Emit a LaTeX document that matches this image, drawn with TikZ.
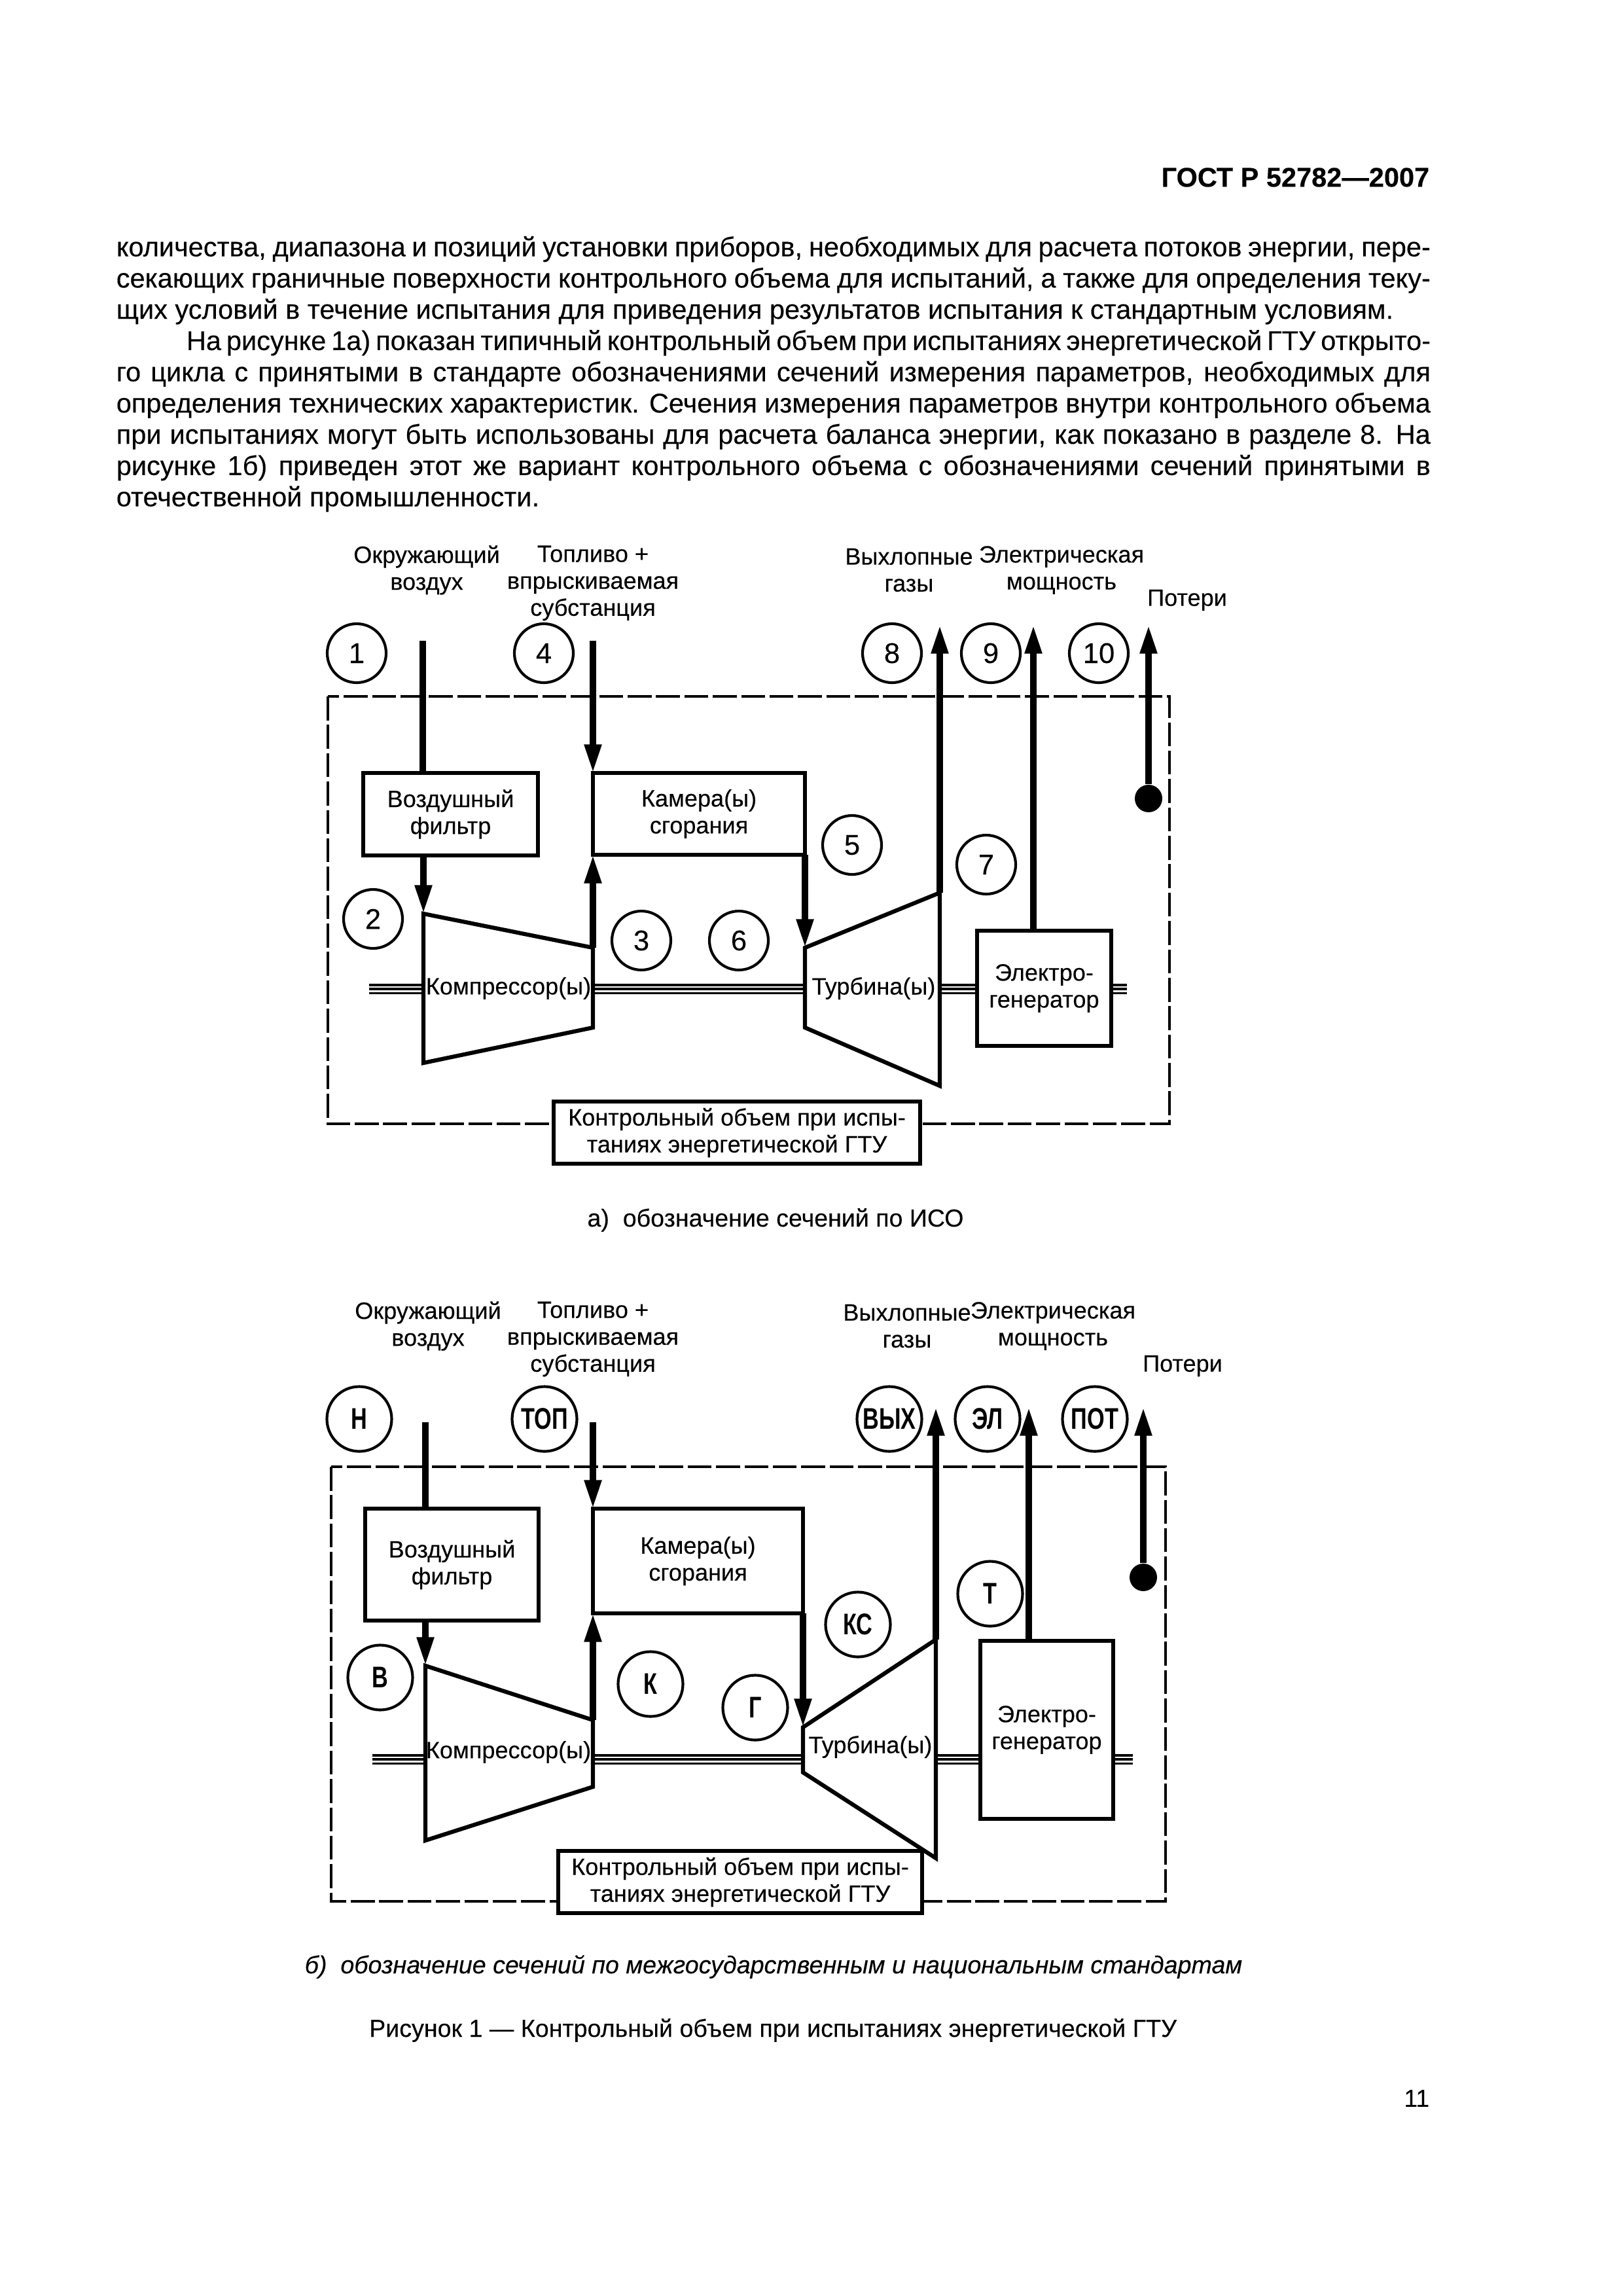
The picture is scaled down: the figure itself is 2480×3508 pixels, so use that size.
\documentclass[tikz,border=0pt]{standalone}
\usepackage{fontspec}
\setmainfont[FakeBold=0.2]{Liberation Sans}
\newfontfamily\secfont[FakeStretch=0.75]{Liberation Sans Bold}
\usetikzlibrary{arrows.meta}
\newlength{\px}
\setlength{\px}{0.2409pt}
\begin{document}
\begin{tikzpicture}[x=0.2409pt,y=-0.2409pt,box/.style={rectangle,draw=black,fill=white,line width=1.5pt,align=center,inner sep=0pt,outer sep=0pt,font=\fontsize{8.7}{9.9}\selectfont},note/.style={inner sep=0pt,align=center,font=\fontsize{8.7}{9.9}\selectfont},sect/.style={circle,draw=black,fill=white,line width=1pt,inner sep=0pt,minimum size=90\px,font=\fontsize{10.5}{11}\selectfont},secb/.style={sect,minimum size=99\px,font=\secfont\fontsize{11}{12}\selectfont},stage/.style={draw=black,line width=1.5pt,line join=miter},flow/.style={draw=black,line width=2.25pt},arrow/.style={flow,-{Triangle[length=10.5pt,width=5.9pt]}},shaft/.style={draw=black,line width=16\px,postaction={draw=white,line width=9\px},postaction={draw=black,line width=3.5\px}},bound/.style={draw=black,line width=1pt,dash pattern=on 8.8pt off 1.65pt},sink/.style={circle,fill=black,inner sep=0pt,minimum size=42\px}]
\useasboundingbox (0,0) rectangle (2480,3508);
% page text
\node[note,anchor=east,font=\bfseries\fontsize{10}{12}\selectfont](head) at (2185,271){ГОСТ Р 52782—2007};
\node[inner sep=0pt,anchor=north west,text width=2008\px,align=justify,font=\fontsize{10}{11.5}\selectfont](body) at (177,360){количества, диапазона и позиций установки приборов, необходимых для расчета потоков энергии, пере-\linebreak секающих граничные поверхности контрольного объема для испытаний, а также для определения теку-\linebreak щих условий в течение испытания для приведения результатов испытания к стандартным условиям.\par\hspace*{25.8pt}На рисунке 1а) показан типичный контрольный объем при испытаниях энергетической ГТУ открыто-\linebreak го цикла с принятыми в стандарте обозначениями сечений измерения параметров, необходимых для\linebreak определения технических характеристик. Сечения измерения параметров внутри контрольного объема\linebreak при испытаниях могут быть использованы для расчета баланса энергии, как показано в разделе 8. На\linebreak рисунке 1б) приведен этот же вариант контрольного объема с обозначениями сечений принятыми в\linebreak отечественной промышленности.};
% variant a
\draw[bound](501,1064) rectangle (1787,1717);
\coordinate (airA) at (646,979);
\coordinate (fuelA) at (906,979);
\coordinate (gasA) at (1436,955);
\coordinate (pwrA) at (1579,955);
\coordinate (lossA) at (1755,955);
\coordinate (cAtl) at (647,1396);
\coordinate (cAtr) at (906,1448);
\coordinate (cAbr) at (906,1570);
\coordinate (cAbl) at (647,1624);
\coordinate (tAtl) at (1230,1448);
\coordinate (tAtr) at (1436,1364);
\coordinate (tAbr) at (1436,1659);
\coordinate (tAbl) at (1230,1570);
\coordinate (sA1) at (564,1511);
\coordinate (sA2) at (647,1511);
\coordinate (sA3) at (906,1511);
\coordinate (sA4) at (1230,1511);
\coordinate (sA5) at (1436,1511);
\coordinate (sA6) at (1493,1511);
\coordinate (sA7) at (1698,1511);
\coordinate (sA8) at (1722,1511);
\foreach \x/\y in {sA1/sA2,sA3/sA4,sA5/sA6,sA7/sA8}{\draw[shaft](\x)--(\y);}
\draw[stage](cAtl)--(cAtr)--(cAbr)--(cAbl)--cycle;
\draw[stage](tAtl)--(tAtr)--(tAbr)--(tAbl)--cycle;
\node[box,minimum width=267\px,minimum height=126\px](filterA) at (688.5,1244){Воздушный\\фильтр};
\node[box,minimum width=324\px,minimum height=125\px](combA) at (1068,1243.5){Камера(ы)\\сгорания};
\node[box,minimum width=205\px,minimum height=176\px](genA) at (1595.5,1510){Электро-\\генератор};
\node[box,minimum width=560\px,minimum height=95\px](ctrlA) at (1126,1730.5){Контрольный объем при испы-\\таниях энергетической ГТУ};
\node[note](compA) at (777,1510){Компрессор(ы)};
\node[note](turbA) at (1335,1510){Турбина(ы)};
\node[note](lblairA) at (652,871){Окружающий\\воздух};
\node[note](lblfuelA) at (906,891){Топливо +\\впрыскиваемая\\субстанция};
\node[note](lblgasA) at (1389,871){Выхлопные\\газы};
\node[note](lblpwrA) at (1622,871){Электрическая\\мощность};
\node[note](lbllossA) at (1814,917){Потери};
\node[sink](dotA) at (1755,1220){};
\draw[flow](airA)--(airA |- filterA.north);
\draw[arrow](filterA.south -| cAtl)--(cAtl);
\draw[arrow](fuelA)--(combA.north west);
\draw[arrow](cAtr)--(combA.south west);
\draw[arrow](combA.south east)--(tAtl);
\draw[arrow](tAtr)--(gasA);
\draw[arrow](genA.north -| pwrA)--(pwrA);
\draw[arrow](dotA)--(lossA);
\foreach \n/\t/\x/\y in {a1/1/545/998,a4/4/831/998,a8/8/1363/998,a9/9/1514/998,a10/10/1679/998,a2/2/570/1404,a3/3/980/1437,a6/6/1129/1437,a5/5/1302/1291,a7/7/1507/1321}{\node[sect](\n) at (\x,\y){\t};}
\node[note,font=\fontsize{9.05}{10}\selectfont](capA) at (1185,1864){а)\ \ обозначение сечений по ИСО};
% variant b
\draw[bound](506,2241) rectangle (1781,2905);
\coordinate (airB) at (650,2173);
\coordinate (fuelB) at (906,2173);
\coordinate (gasB) at (1430,2150);
\coordinate (pwrB) at (1572,2150);
\coordinate (lossB) at (1747,2150);
\coordinate (cBtl) at (650,2545);
\coordinate (cBtr) at (906,2628);
\coordinate (cBbr) at (906,2730);
\coordinate (cBbl) at (650,2812);
\coordinate (tBtl) at (1227,2639);
\coordinate (tBtr) at (1430,2505);
\coordinate (tBbr) at (1430,2839);
\coordinate (tBbl) at (1227,2708);
\coordinate (sB1) at (569,2688);
\coordinate (sB2) at (650,2688);
\coordinate (sB3) at (906,2688);
\coordinate (sB4) at (1227,2688);
\coordinate (sB5) at (1430,2688);
\coordinate (sB6) at (1498,2688);
\coordinate (sB7) at (1701,2688);
\coordinate (sB8) at (1731,2688);
\foreach \x/\y in {sB1/sB2,sB3/sB4,sB5/sB6,sB7/sB8}{\draw[shaft](\x)--(\y);}
\draw[stage](cBtl)--(cBtr)--(cBbr)--(cBbl)--cycle;
\draw[stage](tBtl)--(tBtr)--(tBbr)--(tBbl)--cycle;
\node[box,minimum width=265\px,minimum height=171\px](filterB) at (690.5,2390.5){Воздушный\\фильтр};
\node[box,minimum width=321\px,minimum height=160\px](combB) at (1066.5,2385){Камера(ы)\\сгорания};
\node[box,minimum width=203\px,minimum height=272\px](genB) at (1599.5,2643){Электро-\\генератор};
\node[box,minimum width=556\px,minimum height=95\px](ctrlB) at (1131,2875.5){Контрольный объем при испы-\\таниях энергетической ГТУ};
\node[note](compB) at (777,2677){Компрессор(ы)};
\node[note](turbB) at (1330,2669){Турбина(ы)};
\node[note](lblairB) at (654,2026){Окружающий\\воздух};
\node[note](lblfuelB) at (906,2046){Топливо +\\впрыскиваемая\\субстанция};
\node[note](lblgasB) at (1386,2026){Выхлопные\\газы};
\node[note](lblpwrB) at (1609,2026){Электрическая\\мощность};
\node[note](lbllossB) at (1807,2087){Потери};
\node[sink](dotB) at (1747,2410){};
\draw[flow](airB)--(airB |- filterB.north);
\draw[arrow](filterB.south -| cBtl)--(cBtl);
\draw[arrow](fuelB)--(combB.north west);
\draw[arrow](cBtr)--(combB.south west);
\draw[arrow](combB.south east)--(tBtl);
\draw[arrow](tBtr)--(gasB);
\draw[arrow](genB.north -| pwrB)--(pwrB);
\draw[arrow](dotB)--(lossB);
\foreach \n/\t/\x/\y in {b1/Н/549/2168,b4/ТОП/832/2168,b8/ВЫХ/1359/2168,b9/ЭЛ/1509/2168,b10/ПОТ/1673/2168,b2/В/581/2563,b3/К/994/2573,b6/Г/1154/2609,b5/КС/1311/2482,b7/Т/1513/2435}{\node[secb](\n) at (\x,\y){\t};}
\node[note,font=\itshape\fontsize{9.07}{10}\selectfont](capB) at (1182,3005){б)\ \ обозначение сечений по межгосударственным и национальным стандартам};
\node[note,font=\fontsize{9.06}{10}\selectfont](figcap) at (1181,3102){Рисунок 1 — Контрольный объем при испытаниях энергетической ГТУ};
\node[note,anchor=east,font=\fontsize{9}{11}\selectfont](pageno) at (2185,3206){11};
\end{tikzpicture}
\end{document}
